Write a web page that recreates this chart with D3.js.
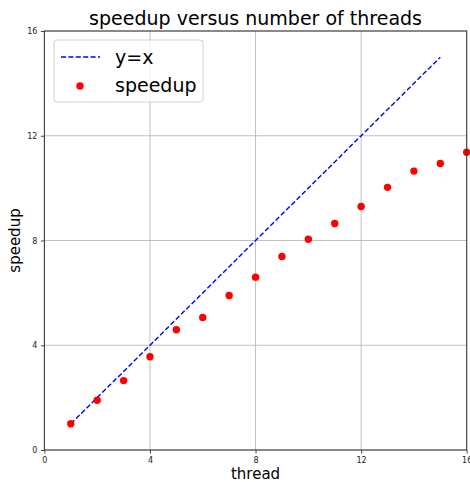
<!DOCTYPE html>
<html><head><meta charset="utf-8">
<script src="https://cdn.jsdelivr.net/npm/d3@7"></script>
<style>body{margin:0;background:#fff}svg{display:block}text{font-family:"DejaVu Sans",sans-serif}</style>
</head><body>
<svg id="c" width="470" height="482"></svg>
<script>
const threads = [1,2,3,4,5,6,7,8,9,10,11,12,13,14,15,16];
const speedup = [1.0,1.90,2.65,3.56,4.59,5.06,5.90,6.60,7.39,8.05,8.65,9.30,10.03,10.65,10.94,11.37];
const idealX = [1,15];
const idealY = [1,15];
const xTicks = [0,4,8,12,16];
const yTicks = [0,4,8,12,16];

const svg = d3.select("#c");
const L=44.4, R=466.7, T=31, B=450;
const x = d3.scaleLinear().domain([0,16]).range([L,R]);
const y = d3.scaleLinear().domain([0,16]).range([B,T]);

// grid
svg.append("g").selectAll("line").data(xTicks).join("line")
  .attr("x1",d=>x(d)).attr("x2",d=>x(d)).attr("y1",T).attr("y2",B)
  .attr("stroke","#b0b0b0").attr("stroke-width",0.8);
svg.append("g").selectAll("line").data(yTicks).join("line")
  .attr("y1",d=>y(d)).attr("y2",d=>y(d)).attr("x1",L).attr("x2",R)
  .attr("stroke","#b0b0b0").attr("stroke-width",0.8);

// ideal line
svg.append("path")
  .attr("d", d3.line().x((d,i)=>x(idealX[i])).y((d,i)=>y(idealY[i]))(idealX))
  .attr("fill","none").attr("stroke","#0000ff").attr("stroke-width",1.4)
  .attr("stroke-dasharray","5,2.4");

// points
svg.append("g").selectAll("circle").data(threads).join("circle")
  .attr("cx",d=>x(d)).attr("cy",(d,i)=>y(speedup[i])).attr("r",3.7).attr("fill","#ff0000");

// axes
const xa = svg.append("g").attr("transform",`translate(0,${B})`)
  .call(d3.axisBottom(x).tickValues(xTicks).tickSize(3.5).tickPadding(3.5).tickFormat(d3.format("d")));
const ya = svg.append("g").attr("transform",`translate(${L},0)`)
  .call(d3.axisLeft(y).tickValues(yTicks).tickSize(3.5).tickPadding(3.5).tickFormat(d3.format("d")));
[xa,ya].forEach(a=>{
  a.select(".domain").remove();
  a.selectAll("line").attr("stroke","#333").attr("stroke-width",0.9);
  a.selectAll("text").attr("font-size","8px").attr("fill","#222").attr("font-family","DejaVu Sans");
});
// frame
svg.append("rect").attr("x",L).attr("y",T).attr("width",R-L).attr("height",B-T)
  .attr("fill","none").attr("stroke","#333").attr("stroke-width",1);

// title and labels
svg.append("text").attr("x",(L+R)/2).attr("y",25).attr("text-anchor","middle")
  .attr("font-size","19px").attr("fill","#000").text("speedup versus number of threads");
svg.append("text").attr("x",(L+R)/2).attr("y",479).attr("text-anchor","middle")
  .attr("font-size","15px").attr("fill","#000").text("thread");
svg.append("text").attr("transform",`translate(20,${(T+B)/2}) rotate(-90)`).attr("text-anchor","middle")
  .attr("font-size","15px").attr("fill","#000").text("speedup");

// legend
const lg = svg.append("g");
lg.append("rect").attr("x",54).attr("y",40).attr("width",149).attr("height",62).attr("rx",3)
  .attr("fill","#fff").attr("fill-opacity",0.8).attr("stroke","#d0d0d0").attr("stroke-width",1);
lg.append("line").attr("x1",61).attr("x2",100).attr("y1",57).attr("y2",57)
  .attr("stroke","#0000ff").attr("stroke-width",1.4).attr("stroke-dasharray","5,2.4");
lg.append("text").attr("x",115).attr("y",64).attr("font-size","19px").attr("fill","#000").text("y=x");
lg.append("circle").attr("cx",80).attr("cy",86).attr("r",3.7).attr("fill","#ff0000");
lg.append("text").attr("x",115).attr("y",92).attr("font-size","19px").attr("fill","#000").text("speedup");
</script>
</body></html>
